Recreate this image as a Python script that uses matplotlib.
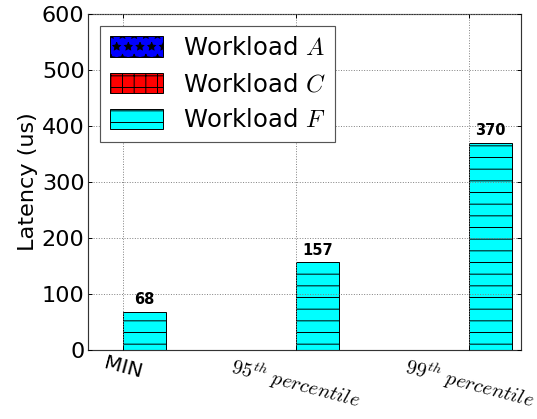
import matplotlib
matplotlib.use("Agg")
import matplotlib.pyplot as plt
import numpy as np

categories = ["MIN", r"$95^{th}\ percentile$", r"$99^{th}\ percentile$"]
workload_a = [0, 0, 0]
workload_c = [0, 0, 0]
workload_f = [68, 157, 370]
series_labels = [r"Workload $A$", r"Workload $C$", r"Workload $F$"]

plt.rcParams['mathtext.fontset'] = 'cm'
plt.rcParams['hatch.linewidth'] = 1.0

DPI = 70
fig = plt.figure(figsize=(537 / DPI, 419 / DPI), dpi=DPI)
ax = fig.add_axes([88 / 537, 1 - 350 / 419, (521 - 88) / 537, (350 - 14) / 419])

ind = np.arange(len(categories))
w = 0.25
ba = ax.bar(ind - 2 * w, workload_a, w, align='edge', color='#0000ff', edgecolor='black',
            hatch='*', label=series_labels[0], linewidth=1)
bc = ax.bar(ind - w, workload_c, w, align='edge', color='#ff0000', edgecolor='black',
            hatch='+', label=series_labels[1], linewidth=1)
bf = ax.bar(ind, workload_f, w, align='edge', color='#00ffff', edgecolor='black',
            hatch='-', label=series_labels[2], linewidth=1)

for rect, v in zip(bf, workload_f):
    ax.text(rect.get_x() + rect.get_width() / 2, v + 8, str(v), ha='center', va='bottom',
            fontsize=15, fontweight='bold')

ax.set_xlim(-0.2, 2.3)
ax.set_ylim(0, 600)
ax.set_yticks(np.arange(0, 601, 100))
ax.set_xticks(ind)
ax.set_xticklabels(categories, rotation=-15, ha='center', fontsize=21)
ax.tick_params(axis='y', labelsize=23)
ax.tick_params(direction='in', top=True, right=True, length=4, width=1)
ax.set_ylabel("Latency (us)", fontsize=23)
ax.grid(True, linestyle=':', color='gray', linewidth=1)
ax.set_axisbelow(False)
for s in ax.spines.values():
    s.set_linewidth(1.2)
    s.set_color('#333333')

leg = ax.legend(loc='upper left', fontsize=25, handlelength=2.2, handleheight=0.9,
                fancybox=False, framealpha=1, edgecolor='#555555')
leg.get_frame().set_linewidth(1.2)

fig.savefig("out.png", dpi=DPI)
